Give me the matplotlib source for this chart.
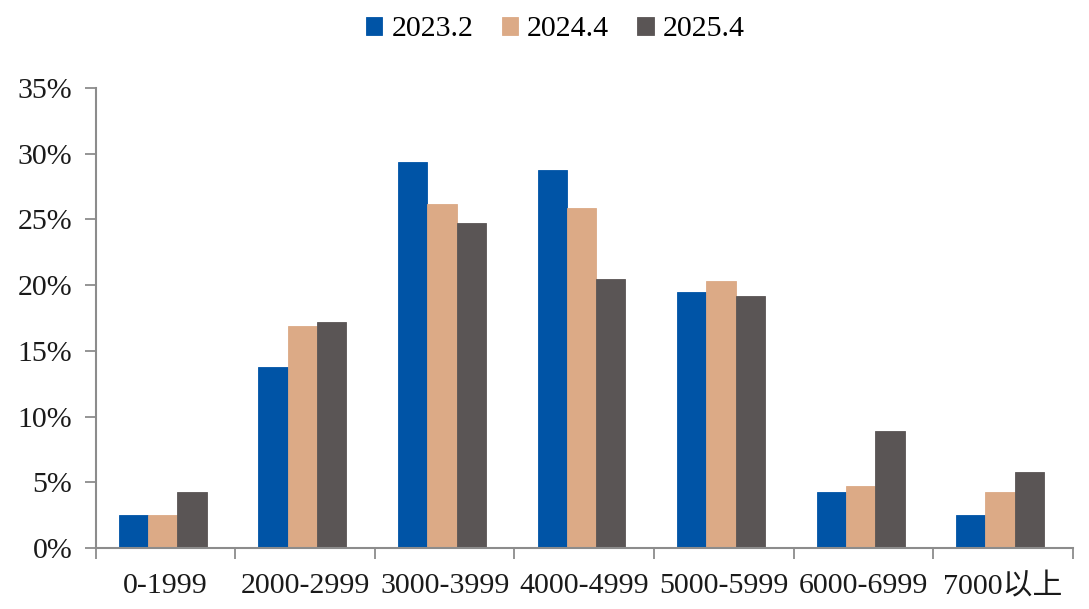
import matplotlib
matplotlib.use("Agg")
import matplotlib.pyplot as plt
import numpy as np

# Distribution shares (%) per price band
categories = ["0-1999", "2000-2999", "3000-3999", "4000-4999",
              "5000-5999", "6000-6999", "7000以上"]
series_names = ["2023.2", "2024.4", "2025.4"]
share_2023_2 = [2.5, 13.8, 29.4, 28.8, 19.5, 4.3, 2.5]
share_2024_4 = [2.5, 16.9, 26.2, 25.9, 20.3, 4.7, 4.3]
share_2025_4 = [4.3, 17.2, 24.7, 20.5, 19.2, 8.9, 5.8]
y_ticks = [0, 5, 10, 15, 20, 25, 30, 35]

_COLORS = ["#0054a6", "#dcaa86", "#5a5555"]
_AXIS_COLOR = "#8c8c8c"
_FONT = ["Liberation Serif", "Noto Sans CJK SC", "DejaVu Sans"]
_FS = 21.5

plt.rcParams["font.family"] = _FONT

fig = plt.figure(figsize=(10.89, 6.09), dpi=100)
ax = fig.add_axes([0.088, 0.100, 0.897, 0.7555])

x = np.arange(len(categories))
width = 0.21
all_series = [share_2023_2, share_2024_4, share_2025_4]
for i, (name, vals) in enumerate(zip(series_names, all_series)):
    ax.bar(x + (i - 1) * width - 0.02, vals, width=width, color=_COLORS[i],
           label=name, edgecolor=_COLORS[i], linewidth=0.6)

ax.set_xlim(-0.5, len(categories) - 0.5)
ax.set_ylim(0, 35)
ax.set_yticks(y_ticks)
ax.set_yticklabels([f"{t}%" for t in y_ticks], fontsize=_FS, color="#1a1a1a")

# category labels at centres, tick marks at group boundaries
ax.set_xticks(x)
ax.set_xticklabels(categories, fontsize=_FS, color="#1a1a1a")
ax.set_xticks(np.arange(-0.5, len(categories)), minor=True)
ax.tick_params(axis="x", which="major", length=0, pad=18)
ax.tick_params(axis="x", which="minor", length=8, width=1.3,
               color=_AXIS_COLOR, direction="out")
ax.tick_params(axis="y", length=8, width=1.3, color=_AXIS_COLOR,
               direction="out", pad=9)

for side in ("top", "right"):
    ax.spines[side].set_visible(False)
for side in ("left", "bottom"):
    ax.spines[side].set_color(_AXIS_COLOR)
    ax.spines[side].set_linewidth(1.5)

fig.legend(loc="center", bbox_to_anchor=(0.51, 0.952), ncol=3,
           frameon=False, fontsize=_FS, handlelength=0.55, handleheight=0.55,
           handletextpad=0.3, columnspacing=0.95)

fig.savefig("out.png", dpi=100)
